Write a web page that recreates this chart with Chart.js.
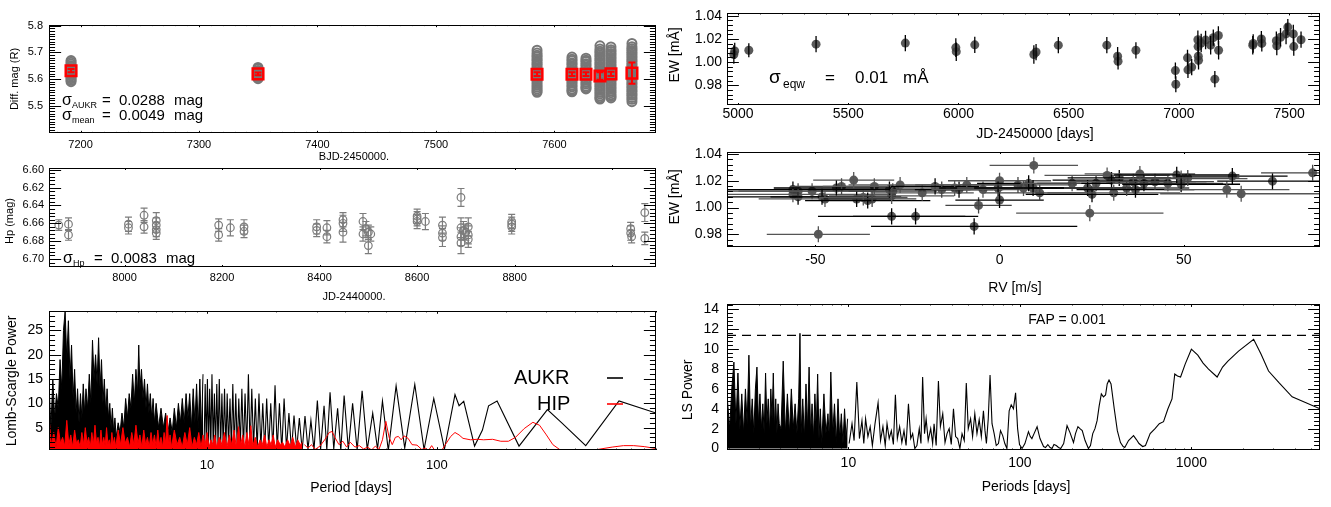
<!DOCTYPE html>
<html>
<head>
<meta charset="utf-8">
<script src="https://cdn.jsdelivr.net/npm/chart.js@4.4.1/dist/chart.umd.min.js"></script>
<style>
  html, body { margin: 0; padding: 0; background: #fff; }
  #wrap { position: relative; width: 1331px; height: 507px; overflow: hidden; }
  #wrap canvas { position: absolute; left: 0; top: 0; }
</style>
</head>
<body>
<div id="wrap">
  <canvas id="c1" width="1331" height="507"></canvas>
  <canvas id="c2" width="1331" height="507"></canvas>
  <canvas id="c3" width="1331" height="507"></canvas>
  <canvas id="c4" width="1331" height="507"></canvas>
  <canvas id="c5" width="1331" height="507"></canvas>
  <canvas id="c6" width="1331" height="507"></canvas>
</div>
<script>
// ---------- data ----------
// AUKR nights (BJD-2450000) and the single measurements of each night
const aukrNights = [7192.0, 7349.8, 7585.3, 7614.8, 7626.6, 7638.4, 7647.7, 7665.4];
const aukrNightMag = [
  [5.669, 5.663, 5.656, 5.650, 5.645, 5.639, 5.634, 5.628, 5.623, 5.617, 5.612, 5.606, 5.601, 5.595, 5.590],
  [5.643, 5.638, 5.632, 5.627, 5.621, 5.616, 5.611, 5.606, 5.601],
  [5.708, 5.697, 5.689, 5.683, 5.675, 5.669, 5.661, 5.655, 5.648, 5.640, 5.634, 5.626, 5.620, 5.612, 5.606, 5.598, 5.592, 5.584, 5.577, 5.570, 5.563, 5.556, 5.550],
  [5.682, 5.674, 5.668, 5.660, 5.655, 5.647, 5.641, 5.633, 5.627, 5.619, 5.613, 5.605, 5.599, 5.591, 5.585, 5.577, 5.571, 5.563, 5.557, 5.552],
  [5.678, 5.670, 5.665, 5.657, 5.651, 5.643, 5.637, 5.629, 5.623, 5.615, 5.609, 5.601, 5.595, 5.587, 5.581, 5.573, 5.567, 5.563],
  [5.724, 5.712, 5.704, 5.698, 5.690, 5.684, 5.676, 5.670, 5.662, 5.656, 5.648, 5.642, 5.634, 5.628, 5.620, 5.614, 5.606, 5.600, 5.592, 5.586, 5.578, 5.572, 5.564, 5.558, 5.550, 5.544, 5.536, 5.530, 5.525],
  [5.720, 5.709, 5.703, 5.695, 5.689, 5.681, 5.675, 5.667, 5.661, 5.653, 5.647, 5.639, 5.633, 5.625, 5.619, 5.611, 5.605, 5.597, 5.591, 5.583, 5.577, 5.569, 5.563, 5.555, 5.549, 5.541, 5.535, 5.529],
  [5.733, 5.721, 5.713, 5.707, 5.699, 5.693, 5.685, 5.679, 5.671, 5.665, 5.657, 5.651, 5.643, 5.637, 5.629, 5.623, 5.615, 5.609, 5.601, 5.595, 5.587, 5.581, 5.573, 5.567, 5.559, 5.553, 5.545, 5.539, 5.531, 5.524, 5.515]
];
const aukrMeanMag = [5.631, 5.619, 5.618, 5.618, 5.618, 5.611, 5.619, 5.622];
const aukrMeanErr = [0.006, 0.005, 0.007, 0.007, 0.007, 0.014, 0.008, 0.040];

// Hipparcos photometry (JD-2440000)
const hipJD = [7865, 7885, 7885, 8008, 8008, 8040, 8040, 8065, 8065, 8065, 8065, 8193, 8193, 8217, 8245, 8245, 8394, 8394, 8415, 8415, 8448, 8448, 8448, 8489, 8489, 8495, 8500, 8500, 8505, 8600, 8600, 8600, 8617, 8652, 8652, 8652, 8690, 8690, 8690, 8690, 8695, 8700, 8705, 8705, 8705, 8794, 8794, 8794, 9038, 9038, 9040, 9067, 9067];
const hipMag = [6.662, 6.661, 6.673, 6.661, 6.665, 6.651, 6.664, 6.657, 6.662, 6.667, 6.671, 6.662, 6.673, 6.665, 6.664, 6.669, 6.664, 6.668, 6.665, 6.675, 6.656, 6.660, 6.670, 6.658, 6.672, 6.666, 6.670, 6.685, 6.672, 6.652, 6.655, 6.658, 6.658, 6.662, 6.671, 6.676, 6.631, 6.665, 6.675, 6.682, 6.668, 6.670, 6.664, 6.673, 6.678, 6.658, 6.661, 6.664, 6.666, 6.671, 6.675, 6.648, 6.677];
const hipErr = [0.006, 0.007, 0.006, 0.008, 0.007, 0.008, 0.007, 0.009, 0.008, 0.008, 0.007, 0.007, 0.007, 0.009, 0.008, 0.007, 0.008, 0.007, 0.008, 0.007, 0.008, 0.009, 0.011, 0.009, 0.008, 0.008, 0.008, 0.009, 0.008, 0.008, 0.008, 0.008, 0.009, 0.009, 0.008, 0.010, 0.010, 0.011, 0.010, 0.012, 0.010, 0.009, 0.010, 0.010, 0.009, 0.008, 0.008, 0.008, 0.007, 0.008, 0.007, 0.010, 0.007];

// Lomb-Scargle periodogram of the AUKR photometry
const aukrDensePeriod = [2.05, 2.09, 2.13, 2.17, 2.21, 2.25, 2.29, 2.33, 2.37, 2.41, 2.45, 2.49, 2.53, 2.57, 2.61, 2.65, 2.69, 2.73, 2.77, 2.81, 2.85, 2.89, 2.93, 2.97,
  3.02, 3.07, 3.12, 3.17, 3.22, 3.27, 3.32, 3.37, 3.42, 3.47, 3.52, 3.57, 3.62, 3.67, 3.72, 3.77, 3.82, 3.87, 3.92, 3.97,
  4.02, 4.1, 4.18, 4.26, 4.34, 4.42, 4.5, 4.58, 4.66, 4.74, 4.82, 4.9, 4.98, 5.04, 5.1, 5.18, 5.26, 5.34, 5.42, 5.5, 5.58, 5.66, 5.74, 5.82, 5.9,
  6.0, 6.15, 6.3, 6.45, 6.6, 6.75, 6.9, 7.05, 7.2, 7.35, 7.5, 7.65, 7.8, 7.95, 8.1, 8.25, 8.4, 8.55, 8.7, 8.85, 9.0, 9.15, 9.3, 9.45, 9.6];
const aukrDensePower = [14, 5, 15, 7, 12, 9, 19, 13, 25, 29, 19, 27, 15, 22, 11, 17, 8, 13, 6, 12, 7, 14, 8, 13,
  9, 16, 10, 23, 15, 20, 14, 23.5, 13, 19, 10, 15, 8, 13, 7, 10, 5, 9, 4, 7,
  3, 6, 4, 8, 5, 11, 7, 12, 9, 16, 10, 17, 12, 22, 13, 17, 11, 15, 9, 14, 8, 12, 7, 11, 6,
  10, 5, 9, 5, 8, 4, 7, 4, 9, 5, 10, 6, 11, 6, 12, 7, 12, 5, 13, 6, 14, 5, 15, 4, 16];
const aukrLongPeriod = [9.7, 9.81, 9.92, 10.03, 10.14, 10.26, 10.38, 10.5, 10.63, 10.76, 10.89, 11.02, 11.16, 11.3, 11.45, 11.6, 11.75, 11.91, 12.07, 12.23,
  12.4, 12.58, 12.76, 12.94, 13.13, 13.33, 13.53, 13.74, 13.95, 14.17, 14.4, 14.63, 14.88, 15.13, 15.39, 15.65, 15.93, 16.22, 16.52, 16.82,
  17.14, 17.47, 17.82, 18.17, 18.55, 18.93, 19.34, 19.76, 20.2, 20.65, 21.14, 21.64, 22.17, 22.71, 23.3, 23.9, 24.55, 25.21, 25.94, 26.68,
  27.49, 28.31, 29.2, 30.2, 31.2, 32.3, 33.2, 34.3, 35.6, 37.0, 38.2, 39.5, 41.2, 43.0, 45.0, 47.3, 49.8, 52.6, 55.2, 58.0,
  61.5, 66.5, 72.5, 80.2, 88, 97, 108, 120, 125, 131, 146, 158, 168, 183, 228, 303, 350, 445, 621, 900];
const aukrLongPower = [1, 14, 0.8, 15, 1, 13, 0.5, 16, 1.2, 12, 0.5, 14, 1, 15, 0.6, 12, 1, 13, 0.4, 12,
  1, 11, 0.5, 14, 0.8, 12, 0.4, 11, 1, 13, 0.5, 12, 0.6, 16, 0.4, 13, 0.8, 11, 0.4, 12,
  0.6, 10, 0.3, 11, 0.7, 10, 0.4, 13.7, 0.5, 10, 0.3, 11, 0.6, 8, 0.3, 7.5, 0.5, 7, 0.3, 7.4,
  0.5, 6.5, 0.4, 10.6, 0.5, 9.5, 0.4, 12.3, 0.6, 9, 0.3, 11.6, 0.5, 10, 0.4, 12.6, 0.5, 8, 0.6, 10.5,
  0.3, 13.6, 0.8, 13.9, 0.5, 11, 0.6, 11.8, 9.5, 10.4, 1.2, 4.5, 9.5, 10.5, 1.2, 8.7, 6.0, 1.3, 10.5, 8];

// Lomb-Scargle periodogram of the Hipparcos photometry
const hipDensePeriod = [2.05, 2.1, 2.15, 2.2, 2.25, 2.3, 2.35, 2.4, 2.45, 2.5, 2.55, 2.6, 2.65, 2.7, 2.75, 2.8, 2.85, 2.9, 2.95, 3.0,
  3.05, 3.1, 3.15, 3.2, 3.25, 3.3, 3.35, 3.4, 3.45, 3.5, 3.55, 3.6, 3.65, 3.7, 3.75, 3.8, 3.85, 3.9, 3.95, 4.0,
  4.1, 4.2, 4.3, 4.4, 4.5, 4.6, 4.7, 4.8, 4.9, 5.0, 5.1, 5.2, 5.3, 5.4, 5.5, 5.6, 5.7, 5.8, 5.9, 6.0,
  6.1, 6.2, 6.3, 6.4, 6.5, 6.6, 6.7, 6.8, 6.9, 7.0,
  7.2, 7.4, 7.6, 7.8, 8.0, 8.2, 8.4, 8.6, 8.8, 9.0, 9.2, 9.4, 9.6, 9.8, 10.0,
  10.2, 10.4, 10.6, 10.8, 11.0,
  11.3, 11.6, 11.9, 12.2, 12.5, 12.8, 13.1, 13.4, 13.7, 14.0, 14.3, 14.6, 14.9, 15.2, 15.5, 15.8,
  16.2, 16.6, 17.0, 17.4, 17.8, 18.2, 18.6, 19.0, 19.4, 19.8,
  20.3, 20.8, 21.3, 21.8, 22.4, 23.0, 23.6, 24.2, 24.8, 25.4, 26.0];
const hipDensePower = [7.0, 1.5, 4, 1.0, 5, 1.8, 3, 1.2, 6.5, 1.5, 3.5, 1.0, 4.5, 1.8, 2.5, 1.0, 4, 1.5, 5, 1.8,
  3, 1.0, 4, 1.5, 5.5, 1.8, 3, 1.0, 4.5, 1.5, 3, 1.2, 5, 1.6, 2.5, 1.0, 4, 1.5, 3, 1.0,
  4.5, 1.5, 5, 1.8, 3, 1.0, 4, 1.5, 5.5, 1.8, 3.5, 1.0, 4.5, 1.5, 3, 1.0, 4, 1.5, 3.5, 1.0,
  4.5, 1.5, 3, 1.0, 4, 1.8, 7.5, 1.5, 3.5, 1.0,
  4.5, 1.5, 3, 1.0, 4, 1.5, 5, 1.0, 3, 1.5, 4, 1.0, 3.5, 1.5, 4,
  1.0, 2.5, 1.5, 3.5, 1.0,
  3, 1.5, 4, 1.0, 3.5, 1.5, 4.5, 1.0, 5.2, 1.5, 3.5, 1.0, 4, 1.5, 5.4, 1.2,
  3, 1.0, 2.5, 1.5, 3.5, 1.0, 2.5, 1.5, 3.5, 1.0,
  2.5, 1.5, 2, 1.0, 2.5, 1.2, 3, 1.0, 2.5, 1.5, 2];
const hipLongPeriod = [26.5, 27.5, 28.5, 29.5, 31, 32.5, 34, 35, 36, 37.5, 39, 40.5, 42, 44, 46, 48, 50, 52, 54, 56,
  58, 60, 62, 64, 66, 68, 70, 72, 75, 78, 82, 86, 89, 92, 95, 98, 102, 106, 110, 115,
  120, 125, 130, 140, 150, 160, 175, 190, 205, 220, 240, 262, 280, 300, 320, 345, 380, 430, 500, 580, 650, 720, 800, 900];
const hipLongPower = [1.5, 0.8, 1.5, 0.5, 1.2, 2.5, 4.0, 4.2, 3, 1.5, 2.2, 1, 2, 1, 1.3, 0.6, 1.0, 0.4, 1.2, 0.5,
  2.5, 6.3, 3, 1.5, 3, 3.2, 2.5, 3.3, 2.8, 1.5, 1.4, 0.5, 0.8, 0.3, 1.3, 0.3, 0.2, 0.6, 1.8, 3.2,
  4.0, 3.5, 2.8, 2.5, 2.6, 2.5, 2.6, 2.2, 2.2, 3.0, 4.8, 6.1, 5.5, 3.5, 1.5, 0.4, 0.15, 0.2, 0.5, 1.0, 1.3, 1.3, 1.1, 0.7];

// Equivalent width time series (JD-2450000)
const ewJD = [4981, 4985, 5049, 5354, 5759, 5988, 5990, 6074, 6342, 6352, 6453, 6673, 6722, 6724, 6805, 6984, 6986, 7039, 7041, 7058, 7086, 7087, 7088, 7089, 7101, 7121, 7144, 7156, 7163, 7179, 7180, 7335, 7337, 7374, 7376, 7442, 7444, 7461, 7486, 7494, 7519, 7521, 7554];
const ewVal = [1.0066, 1.0096, 1.0102, 1.0155, 1.0164, 1.0125, 1.0090, 1.0149, 1.0066, 1.0087, 1.0146, 1.0146, 1.0051, 1.0007, 1.0102, 0.9927, 0.9809, 1.0037, 0.9933, 0.9957, 1.0193, 1.0134, 1.0051, 1.0016, 1.0164, 1.0190, 1.0146, 1.0211, 0.9853, 1.0229, 1.0102, 1.0146, 1.0160, 1.0199, 1.0161, 1.0184, 1.0140, 1.0214, 1.0243, 1.0302, 1.0243, 1.0134, 1.0193];
const ewErr = [0.008, 0.007, 0.006, 0.007, 0.007, 0.008, 0.008, 0.007, 0.008, 0.007, 0.007, 0.007, 0.008, 0.007, 0.007, 0.007, 0.007, 0.007, 0.007, 0.007, 0.008, 0.008, 0.008, 0.008, 0.008, 0.008, 0.008, 0.007, 0.007, 0.008, 0.008, 0.008, 0.008, 0.007, 0.007, 0.008, 0.008, 0.008, 0.009, 0.007, 0.008, 0.008, 0.007];

// EW against RV
const rvVal = [-56.1, -56.1, -54.7, -54.7, -50.9, -48.2, -47.4, -44.3, -42.9, -39.6, -38.8, -37.0, -35.8, -34.6, -34.0, -29.9, -29.3, -29.3, -29.0, -27.0, -22.8, -21.0, -17.5, -15.7, -12.2, -11.0, -8.9, -6.9, -5.7, -4.5, -0.4, 0.0, 0.0, 5.0, 6.5, 7.9, 9.3, 9.1, 10.9, 19.7, 23.9, 24.5, 25.1, 26.2, 29.2, 30.4, 31.0, 32.5, 34.5, 36.3, 36.9, 38.1, 39.2, 42.2, 45.7, 48.1, 49.3, 49.3, 51.1, 61.7, 63.2, 65.6, 74.1, 85.0, -49.2];
const rvErr = [22, 26, 28, 20, 20, 14, 18, 17, 14, 11, 9, 12, 17, 12, 14, 22, 17, 20, 12, 14, 17, 14, 12, 14, 16, 12, 14, 28, 9, 14, 16, 14, 12, 16, 18, 14, 12, 16, 15, 14, 16, 20, 18, 16, 17, 16, 18, 14, 17, 17, 16, 15, 17, 16, 15, 17, 18, 16, 14, 17, 15, 22, 15, 14, 14];
const ewRv = [1.0134, 1.0099, 1.0080, 1.0122, 1.0122, 1.0080, 1.0064, 1.0146, 1.0158, 1.0205, 1.0064, 1.0075, 1.0052, 1.0064, 1.0158, 1.0134, 1.0087, 0.9934, 1.0122, 1.0169, 0.9934, 1.0110, 1.0158, 1.0134, 1.0146, 1.0134, 1.0169, 0.9859, 1.0016, 1.0134, 1.0146, 1.0200, 1.0056, 1.0169, 1.0146, 1.0181, 1.0315, 1.0146, 1.0110, 1.0181, 1.0146, 0.9958, 1.0099, 1.0181, 1.0240, 1.0205, 1.0110, 1.0221, 1.0146, 1.0193, 1.0134, 1.0251, 1.0181, 1.0193, 1.0181, 1.0244, 1.0216, 1.0174, 1.0221, 1.0134, 1.0235, 1.0103, 1.0197, 1.0259, 0.9800];
const ewRvErr = 0.006;

// Lomb-Scargle periodogram of the EW
const lsDensePeriod = [1.97, 2.03, 2.09, 2.15, 2.21, 2.27, 2.33, 2.39, 2.45, 2.51, 2.57, 2.63, 2.69, 2.75, 2.81, 2.87, 2.93, 2.99, 3.05, 3.11, 3.17, 3.23, 3.29, 3.35, 3.41, 3.47, 3.53, 3.59, 3.65, 3.71, 3.77, 3.83, 3.89, 3.95,
  4.05, 4.17, 4.29, 4.41, 4.53, 4.65, 4.77, 4.89, 5.01, 5.13, 5.22, 5.3, 5.42, 5.54, 5.66, 5.78, 5.9, 6.02, 6.14, 6.26, 6.38, 6.5, 6.62, 6.74, 6.86, 7.0,
  7.2, 7.4, 7.6, 7.75, 7.9, 8.1, 8.3, 8.5, 8.7, 8.9, 9.1, 9.3, 9.5, 9.7, 9.9];
const lsDensePower = [5, 2, 6, 8.7, 2.5, 7.6, 2, 5.5, 1.5, 6, 2.5, 9.4, 2, 5, 1.5, 6, 8.2, 2.5, 5.5, 2, 4.5, 1.5, 7.6, 2.5, 5, 1.5, 6, 3, 7.6, 2, 5, 1.5, 4.5, 2.5,
  2, 8.8, 1.5, 5.5, 1.5, 6, 2, 4.5, 1.5, 5, 11.6, 1.5, 5, 1, 6.5, 2, 8.2, 1.5, 4.5, 1, 5.5, 2, 7.5, 1, 4, 0.5,
  5.5, 1.5, 3.5, 1, 7.7, 1.5, 4.5, 0.5, 5, 1, 3.5, 0.5, 4, 1, 3];
const lsLongPeriod = [10.1, 10.5, 10.8, 11.2, 11.6, 12.0, 12.3, 12.6, 13.0, 13.4, 13.8, 14.3, 14.9, 15.4, 15.9, 16.4, 16.8, 17.3, 17.8, 18.3,
  18.8, 19.3, 19.9, 20.5, 21.1, 21.7, 22.4, 23.1, 23.7, 24.4, 25.1, 25.9, 26.5, 27.1, 27.8, 28.4, 29.2, 30.2, 31.0, 31.6,
  32.5, 33.5, 34.4, 35.5, 36.6, 37.6, 38.7, 39.8, 41.0, 42.2, 43.4, 44.7, 46.0, 47.4, 48.7, 50.0, 51.6, 53.0, 54.6, 56.2,
  57.9, 59.6, 61.3, 62.6, 63.8, 65.4, 67.0, 68.8, 70.8, 72.8, 75.0, 77.1, 79.4, 81.7, 84.0, 86.6, 89.0, 91.7, 94.4, 97.0,
  99.5, 103, 107, 112.2, 115, 117.5, 121, 126, 131, 137.4, 141, 145.5, 150, 154, 158, 163, 168, 173, 180, 188.4,
  196, 205.4, 211, 218, 224, 231, 240, 251, 258, 266, 274, 282, 290, 298.5, 307, 316, 323, 331, 340, 355,
  370, 386, 400, 409, 430, 460, 478, 495, 520, 540, 575, 614, 650, 688, 730, 771, 800, 830, 865, 920,
  1000, 1090, 1170, 1259, 1413, 1520, 1633, 1884, 2307, 2550, 2818, 3250, 3868, 5623];
const lsLongPower = [0.5, 2.5, 0.8, 6.7, 1, 2.8, 0.5, 3.0, 1.2, 2.2, 0.3, 2.5, 4.6, 0.8, 2.2, 0.3, 2.5, 1, 1.8, 0.4,
  5.4, 1, 2.2, 0.6, 1.8, 0.3, 4.5, 1, 1.5, 0, 0.3, 2, 0.5, 7.2, 1.5, 3, 0.8, 2, 0.5, 2.5,
  0.3, 6.8, 2.2, 3.5, 0.6, 1.5, 2, 0.4, 4.0, 1.2, 1, 0, 1.5, 0.8, 6.6, 2, 3, 1.2, 3.5, 1.5,
  2.9, 1.2, 3.8, 1.8, 0.5, 3, 7.4, 2.5, 1.5, 0.3, 0.5, 1.8, 1.3, 0.5, 0, 3.8, 4.4, 4.0, 5.6, 2.0,
  0.4, 0, 0.5, 1.7, 1.2, 1.0, 1.5, 2.2, 1.0, 0.2, 0.1, 0.4, 0.1, 0, 0.4, 0.3, 0.1, 0, 0.5, 2.3,
  1.6, 0.6, 1.5, 2.2, 2.0, 1.8, 0.8, 0, 0.3, 1.5, 2.0, 2.8, 4.3, 5.5, 5.2, 5.4, 6.5, 6.9, 6.5, 4.0,
  1.8, 0.6, 0.2, 0.1, 0.8, 1.3, 0.9, 0.5, 0.2, 0.3, 1.5, 2.0, 2.5, 2.7, 4.0, 5.0, 7.5, 7.3, 7.2, 8.5,
  10.0, 9.4, 8.6, 8.0, 7.2, 8.2, 8.8, 9.8, 11.0, 9.5, 7.8, 6.6, 5.2, 4.0];
const fapLevel = 11.4;

// tick labels
const p1XTicks = [7200, 7300, 7400, 7500, 7600], p1YTicks = [5.5, 5.6, 5.7, 5.8];
const p2XTicks = [8000, 8200, 8400, 8600, 8800], p2YTicks = [6.60, 6.62, 6.64, 6.66, 6.68, 6.70];
const p3XTicks = [10, 100], p3YTicks = [5, 10, 15, 20, 25];
const p4XTicks = [5000, 5500, 6000, 6500, 7000, 7500], ewYTicks = [0.98, 1.00, 1.02, 1.04];
const p5XTicks = [-50, 0, 50];
const p6XTicks = [10, 100, 1000], p6YTicks = [0, 2, 4, 6, 8, 10, 12, 14];

// ---------- helpers ----------
const W = 1331, H = 507;
const FONT = "'Liberation Sans', 'DejaVu Sans', Arial, sans-serif";

function pts(xs, ys) { return xs.map((x, i) => ({ x: x, y: ys[i] })); }

function axisX(o) {
  return {
    type: o.log ? 'logarithmic' : 'linear', position: 'bottom', min: o.min, max: o.max,
    grid: { display: false, drawTicks: false }, border: { display: false },
    ticks: { autoSkip: false, maxRotation: 0, minRotation: 0, padding: o.pad, color: '#000',
      font: { family: FONT, size: o.size }, callback: o.fmt || (v => String(v)) },
    afterBuildTicks: s => { s.ticks = o.ticks.map(v => ({ value: v })); },
    afterFit: s => { s.height = o.h; }
  };
}
function axisY(o) {
  return {
    type: 'linear', position: 'left', min: o.min, max: o.max, reverse: !!o.reverse,
    grid: { display: false, drawTicks: false }, border: { display: false },
    ticks: { autoSkip: false, padding: o.pad, color: '#000',
      font: { family: FONT, size: o.size }, callback: o.fmt || (v => String(v)) },
    afterBuildTicks: s => { s.ticks = o.ticks.map(v => ({ value: v })); },
    afterFit: s => { s.width = o.w; }
  };
}

function linTicks(min, max, minor, major) {
  const out = [], lo = Math.min(min, max), hi = Math.max(min, max);
  for (let i = Math.ceil(lo / minor - 1e-9); i * minor <= hi + 1e-9; i++) {
    const v = i * minor, r = v / major;
    out.push([v, Math.abs(r - Math.round(r)) < 1e-6]);
  }
  return out;
}
function logTicks(min, max) {
  const out = [];
  for (let e = Math.floor(Math.log10(min)); e <= Math.ceil(Math.log10(max)); e++)
    for (let k = 1; k < 10; k++) {
      const v = k * Math.pow(10, e);
      if (v >= min && v <= max) out.push([v, k === 1]);
    }
  return out;
}

// error bars read from dataset.errX / errY
const errorBars = {
  id: 'errorBars',
  afterDatasetsDraw(chart) {
    const ctx = chart.ctx, a = chart.chartArea, xs = chart.scales.x, ys = chart.scales.y;
    ctx.save();
    ctx.beginPath(); ctx.rect(a.left, a.top, a.right - a.left, a.bottom - a.top); ctx.clip();
    chart.data.datasets.forEach(ds => {
      if (!ds.errX && !ds.errY) return;
      ctx.lineWidth = ds.errWidth || 1;
      const cap = ds.cap || 0;
      ds.data.forEach((p, j) => {
        ctx.strokeStyle = ds.errColors ? ds.errColors[j % ds.errColors.length] : ds.errColor;
        const px = xs.getPixelForValue(p.x), py = ys.getPixelForValue(p.y);
        ctx.beginPath();
        if (ds.errY) {
          const e = Array.isArray(ds.errY) ? ds.errY[j] : ds.errY;
          const y1 = ys.getPixelForValue(p.y - e), y2 = ys.getPixelForValue(p.y + e);
          ctx.moveTo(px, y1); ctx.lineTo(px, y2);
          if (cap) { ctx.moveTo(px - cap, y1); ctx.lineTo(px + cap, y1); ctx.moveTo(px - cap, y2); ctx.lineTo(px + cap, y2); }
        }
        if (ds.errX) {
          const e = Array.isArray(ds.errX) ? ds.errX[j] : ds.errX;
          ctx.moveTo(xs.getPixelForValue(p.x - e), py); ctx.lineTo(xs.getPixelForValue(p.x + e), py);
        }
        ctx.stroke();
      });
    });
    ctx.restore();
  }
};

// IDL-like frame: box plus inward ticks on all four sides, then the texts
const idlFrame = {
  id: 'idlFrame',
  afterDraw(chart, args, o) {
    const ctx = chart.ctx, a = chart.chartArea, xs = chart.scales.x, ys = chart.scales.y;
    ctx.save();
    ctx.strokeStyle = '#000'; ctx.lineWidth = 1;
    ctx.strokeRect(Math.round(a.left) + 0.5, Math.round(a.top) + 0.5, Math.round(a.right - a.left) - 1, Math.round(a.bottom - a.top) - 1);
    const yLen = 0.02 * (a.right - a.left), xLen = Math.max(2, 0.02 * (a.bottom - a.top));
    ctx.beginPath();
    const xt = o.xLog ? logTicks(xs.min, xs.max) : linTicks(xs.min, xs.max, o.xMinor, o.xMajor);
    xt.forEach(([v, major]) => {
      const px = Math.round(xs.getPixelForValue(v)) + 0.5, l = major ? xLen : xLen / 2;
      ctx.moveTo(px, a.bottom); ctx.lineTo(px, a.bottom - l);
      ctx.moveTo(px, a.top); ctx.lineTo(px, a.top + l);
    });
    linTicks(ys.min, ys.max, o.yMinor, o.yMajor).forEach(([v, major]) => {
      const py = Math.round(ys.getPixelForValue(v)) + 0.5, l = major ? yLen : yLen / 2;
      ctx.moveTo(a.left, py); ctx.lineTo(a.left + l, py);
      ctx.moveTo(a.right, py); ctx.lineTo(a.right - l, py);
    });
    ctx.stroke();
    (o.texts || []).forEach(t => {
      if (t.line) {
        ctx.strokeStyle = t.color; ctx.lineWidth = t.width || 1.5;
        ctx.beginPath(); ctx.moveTo(t.line[0], t.line[1]); ctx.lineTo(t.line[2], t.line[3]); ctx.stroke();
        return;
      }
      ctx.save();
      ctx.fillStyle = t.color || '#000';
      ctx.font = t.size + 'px ' + FONT;
      ctx.textAlign = t.align || 'left';
      ctx.textBaseline = 'middle';
      ctx.translate(t.x, t.y);
      if (t.rot) ctx.rotate(t.rot * Math.PI / 180);
      ctx.fillText(t.t, 0, 0);
      ctx.restore();
    });
    ctx.restore();
  }
};

function makeChart(id, type, box, yW, xH, datasets, scales, frame) {
  return new Chart(document.getElementById(id), {
    type: type,
    data: { datasets: datasets },
    options: {
      responsive: false, animation: false, devicePixelRatio: 1, events: [],
      layout: { autoPadding: false, padding: { left: box.l - yW, top: box.t, right: W - box.r, bottom: H - box.b - xH } },
      scales: scales,
      plugins: { legend: { display: false }, tooltip: { enabled: false }, idlFrame: frame }
    },
    plugins: [errorBars, idlFrame]
  });
}

// ---------- panel 1: AUKR differential photometry ----------
const p1Points = [];
aukrNights.forEach((t, i) => aukrNightMag[i].forEach(m => p1Points.push({ x: t, y: m })));

makeChart('c1', 'scatter', { l: 49, r: 656, t: 25, b: 133 }, 40, 30, [
  { data: pts(aukrNights, aukrMeanMag), pointStyle: 'rect', pointRadius: 7.5, borderColor: '#ff0000', borderWidth: 2.5,
    backgroundColor: 'rgba(0,0,0,0)', errY: aukrMeanErr, errColor: '#ff0000', errWidth: 2, cap: 3.5 },
  { data: p1Points, pointStyle: 'circle', pointRadius: 4.5, borderColor: '#777777', borderWidth: 2, backgroundColor: 'rgba(0,0,0,0)' }
], {
  x: axisX({ min: 7173.4, max: 7685.7, ticks: p1XTicks, size: 11, pad: 5, h: 30 }),
  y: axisY({ min: 5.398, max: 5.802, ticks: p1YTicks, size: 11, pad: 6, w: 40, fmt: v => v.toFixed(1) })
}, { xMinor: 10, xMajor: 100, yMinor: 0.01, yMajor: 0.1, texts: [
  { t: 'Diff. mag (R)', x: 15, y: 79, size: 11, rot: -90, align: 'center' },
  { t: 'BJD-2450000.', x: 354, y: 157, size: 11, align: 'center' },
  { t: 'σ', x: 62, y: 101, size: 16 }, { t: 'AUKR', x: 72, y: 106, size: 9 },
  { t: '=', x: 102, y: 101, size: 15 }, { t: '0.0288', x: 119, y: 101, size: 15 }, { t: 'mag', x: 174, y: 101, size: 15 },
  { t: 'σ', x: 62, y: 116, size: 16 }, { t: 'mean', x: 72, y: 121, size: 9 },
  { t: '=', x: 102, y: 116, size: 15 }, { t: '0.0049', x: 119, y: 116, size: 15 }, { t: 'mag', x: 174, y: 116, size: 15 }
] });

// ---------- panel 2: Hipparcos photometry ----------
makeChart('c2', 'scatter', { l: 49, r: 656, t: 168, b: 267 }, 40, 30, [
  { data: pts(hipJD, hipMag), pointStyle: 'circle', pointRadius: 3.8, borderColor: '#7c7c7c', borderWidth: 1.2,
    backgroundColor: 'rgba(0,0,0,0)', errY: hipErr, errColor: '#7c7c7c', errWidth: 1.2, cap: 3.5 }
], {
  x: axisX({ min: 7845, max: 9090, ticks: p2XTicks, size: 11, pad: 4, h: 30 }),
  y: axisY({ min: 6.598, max: 6.709, reverse: true, ticks: p2YTicks, size: 11, pad: 5, w: 40, fmt: v => v.toFixed(2) })
}, { xMinor: 50, xMajor: 200, yMinor: 0.004, yMajor: 0.02, texts: [
  { t: 'Hp (mag)', x: 10, y: 221, size: 11, rot: -90, align: 'center' },
  { t: 'JD-2440000.', x: 354, y: 297, size: 11, align: 'center' },
  { t: 'σ', x: 63, y: 259, size: 16 }, { t: 'Hp', x: 73, y: 264, size: 9 },
  { t: '=', x: 94, y: 259, size: 15 }, { t: '0.0083', x: 111, y: 259, size: 15 }, { t: 'mag', x: 166, y: 259, size: 15 }
] });

// ---------- panel 3: periodograms of the photometry ----------
makeChart('c3', 'line', { l: 49, r: 656, t: 311, b: 450 }, 40, 30, [
  { data: pts(hipLongPeriod, hipLongPower), borderColor: '#ff0000', borderWidth: 1, pointRadius: 0, fill: false, tension: 0 },
  { data: pts(hipDensePeriod, hipDensePower), borderColor: '#ff0000', borderWidth: 1, pointRadius: 0, fill: 'origin', backgroundColor: '#ff0000', tension: 0 },
  { data: pts(aukrLongPeriod, aukrLongPower), borderColor: '#000', borderWidth: 1.1, pointRadius: 0, fill: false, tension: 0 },
  { data: pts(aukrDensePeriod, aukrDensePower), borderColor: '#000', borderWidth: 1, pointRadius: 0, fill: 'origin', backgroundColor: '#000', tension: 0 }
], {
  x: axisX({ log: true, min: 2.05, max: 900, ticks: p3XTicks, size: 13, pad: 8, h: 30 }),
  y: axisY({ min: 0.4, max: 29, ticks: p3YTicks, size: 14, pad: 6, w: 40 })
}, { xLog: true, yMinor: 1, yMajor: 5, texts: [
  { t: 'Lomb-Scargle Power', x: 12, y: 381, size: 14, rot: -90, align: 'center' },
  { t: 'Period [days]', x: 351, y: 488, size: 14, align: 'center' },
  { t: 'AUKR', x: 514, y: 378, size: 20 }, { line: [607, 378, 623, 378], color: '#000', width: 1.6 },
  { t: 'HIP', x: 537, y: 404, size: 20 }, { line: [607, 404, 623, 404], color: '#ff0000', width: 1.6 }
] });

// ---------- panel 4: EW time series ----------
makeChart('c4', 'scatter', { l: 727, r: 1320, t: 13, b: 105 }, 50, 30, [
  { data: pts(ewJD, ewVal), pointStyle: 'circle', pointRadius: 4.5, borderWidth: 0, backgroundColor: 'rgba(60,60,60,0.85)',
    errY: ewErr, errColor: '#000', errWidth: 1.3 }
], {
  x: axisX({ min: 4950, max: 7640, ticks: p4XTicks, size: 14, pad: 1, h: 30 }),
  y: axisY({ min: 0.963, max: 1.042, ticks: ewYTicks, size: 14, pad: 5, w: 50, fmt: v => v.toFixed(2) })
}, { xMinor: 100, xMajor: 500, yMinor: 0.004, yMajor: 0.02, texts: [
  { t: 'EW [mÅ]', x: 675, y: 55, size: 14, rot: -90, align: 'center' },
  { t: 'JD-2450000 [days]', x: 1035, y: 134, size: 14, align: 'center' },
  { t: 'σ', x: 769, y: 78, size: 19 }, { t: 'eqw', x: 783, y: 85, size: 12 },
  { t: '=', x: 825, y: 78, size: 17 }, { t: '0.01', x: 855, y: 78, size: 17 }, { t: 'mÅ', x: 903, y: 78, size: 17 }
] });

// ---------- panel 5: EW against RV ----------
makeChart('c5', 'scatter', { l: 727, r: 1320, t: 152, b: 247 }, 50, 30, [
  { data: pts(rvVal, ewRv), pointStyle: 'circle', pointRadius: 4.5, borderWidth: 0, backgroundColor: 'rgba(60,60,60,0.85)',
    errX: rvErr, errY: ewRvErr, errColors: ['#000', '#555', '#000', '#444', '#555'], errWidth: 1.3 }
], {
  x: axisX({ min: -74, max: 87, ticks: p5XTicks, size: 14, pad: 5, h: 30 }),
  y: axisY({ min: 0.9705, max: 1.0415, ticks: ewYTicks, size: 14, pad: 5, w: 50, fmt: v => v.toFixed(2) })
}, { xMinor: 10, xMajor: 50, yMinor: 0.004, yMajor: 0.02, texts: [
  { t: 'EW [mÅ]', x: 675, y: 197, size: 14, rot: -90, align: 'center' },
  { t: 'RV [m/s]', x: 1015, y: 288, size: 14, align: 'center' }
] });

// ---------- panel 6: periodogram of the EW ----------
const lsMin = 1.96, lsMax = 5623;
makeChart('c6', 'line', { l: 727, r: 1320, t: 304, b: 450 }, 50, 30, [
  { data: pts([lsMin, lsMax], [fapLevel, fapLevel]), borderColor: '#000', borderWidth: 1.2, borderDash: [9, 6], pointRadius: 0, fill: false },
  { data: pts(lsLongPeriod, lsLongPower), borderColor: '#000', borderWidth: 1.1, pointRadius: 0, fill: false, tension: 0 },
  { data: pts(lsDensePeriod, lsDensePower), borderColor: '#000', borderWidth: 1, pointRadius: 0, fill: 'origin', backgroundColor: '#000', tension: 0 }
], {
  x: axisX({ log: true, min: lsMin, max: lsMax, ticks: p6XTicks, size: 14, pad: 5, h: 30 }),
  y: axisY({ min: -0.15, max: 14.55, ticks: p6YTicks, size: 14, pad: 8, w: 50 })
}, { xLog: true, yMinor: 0.4, yMajor: 2, texts: [
  { t: 'LS Power', x: 688, y: 390, size: 14, rot: -90, align: 'center' },
  { t: 'Periods [days]', x: 1026, y: 487, size: 14, align: 'center' },
  { t: 'FAP = 0.001', x: 1067, y: 320, size: 14, align: 'center' }
] });
</script>
</body>
</html>
